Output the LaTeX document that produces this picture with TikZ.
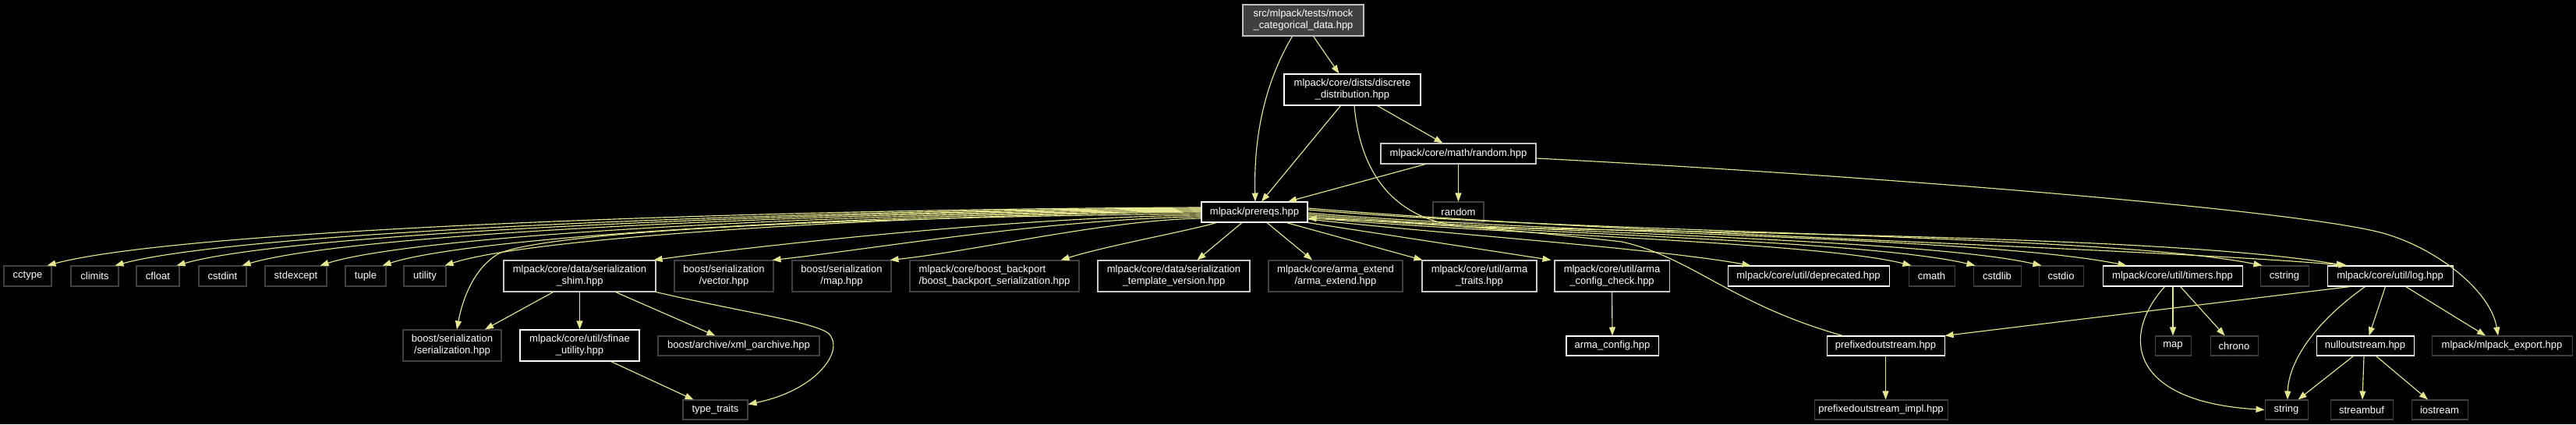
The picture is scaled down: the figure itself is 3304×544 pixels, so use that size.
\documentclass[tikz,border=0pt]{standalone}
\usepackage{fontspec}
\setmainfont{Liberation Sans}
\usetikzlibrary{arrows.meta}
\definecolor{edgec}{HTML}{E6E68F}
\definecolor{extc}{HTML}{404040}
\definecolor{gryc}{HTML}{C8C8C8}
\definecolor{rootc}{HTML}{BFBFBF}
\definecolor{rootfill}{HTML}{404040}
\newcommand\ndfont{\fontsize{13}{15}\selectfont}
\tikzset{
  nd/.style={draw=white, fill=black, text=white, line width=1.05pt, inner sep=0pt, align=center, font=\ndfont},
  extn/.style={nd, draw=extc},
  gryn/.style={nd, draw=gryc},
  rootn/.style={nd, draw=rootc, fill=rootfill},
  sz/.style 2 args={minimum width=#1pt, minimum height=#2pt},
  edge/.style={draw=edgec, line width=1.15pt, -{Triangle[length=11pt,width=8pt]}},
}
\begin{document}
\begin{tikzpicture}[x=1pt,y=-1pt]
\fill[black] (0,0) rectangle (3304,544);
\useasboundingbox (0,0) rectangle (3304,544);
% row 0-3
\node[rootn, sz={155}{40}] (mock) at (1671.5,26) {src/mlpack/tests/mock\\\_categorical\_data.hpp};
\node[nd, sz={175}{40}] (discrete) at (1734.5,115) {mlpack/core/dists/discrete\\\_distribution.hpp};
\node[gryn, sz={199}{26}] (randomhpp) at (1870.5,197) {mlpack/core/math/random.hpp};
\node[nd, sz={136}{26}] (prereqs) at (1609,272) {mlpack/prereqs.hpp};
\node[extn, sz={65}{26}] (random) at (1870.5,272) {random};
% row 4
\node[extn, sz={61}{26}] (cctype) at (35.5,354) {cctype};
\node[extn, sz={61}{26}] (climits) at (121.5,354) {climits};
\node[extn, sz={55}{26}] (cfloat) at (202.5,354) {cfloat};
\node[extn, sz={61}{26}] (cstdint) at (285.5,354) {cstdint};
\node[extn, sz={79}{26}] (stdexcept) at (379.5,354) {stdexcept};
\node[extn, sz={52}{26}] (tuple) at (469,354) {tuple};
\node[extn, sz={54}{26}] (utility) at (545,354) {utility};
\node[gryn, sz={195}{40}] (shim) at (743.5,354) {mlpack/core/data/serialization\\\_shim.hpp};
\node[extn, sz={127}{40}] (vector) at (928.5,354) {boost/serialization\\/vector.hpp};
\node[extn, sz={127}{40}] (bmap) at (1079.5,354) {boost/serialization\\/map.hpp};
\node[extn, sz={217}{40}, align=left] (backport) at (1275.5,354) {mlpack/core/boost\_backport\\/boost\_backport\_serialization.hpp};
\node[gryn, sz={195}{40}] (tversion) at (1505.5,354) {mlpack/core/data/serialization\\\_template\_version.hpp};
\node[extn, sz={172}{40}] (armaext) at (1713,354) {mlpack/core/arma\_extend\\/arma\_extend.hpp};
\node[gryn, sz={147}{40}] (armatraits) at (1897.5,354) {mlpack/core/util/arma\\\_traits.hpp};
\node[gryn, sz={147}{40}] (armacheck) at (2067.5,354) {mlpack/core/util/arma\\\_config\_check.hpp};
\node[nd, sz={207}{26}] (deprecated) at (2319.5,354) {mlpack/core/util/deprecated.hpp};
\node[extn, sz={59}{26}] (cmath) at (2477.5,354) {cmath};
\node[extn, sz={61}{26}] (cstdlib) at (2561.5,354) {cstdlib};
\node[extn, sz={57}{26}] (cstdio) at (2643.5,354) {cstdio};
\node[nd, sz={179}{26}] (timers) at (2786.5,354) {mlpack/core/util/timers.hpp};
\node[extn, sz={62}{26}] (cstring) at (2930,354) {cstring};
\node[nd, sz={161}{26}] (log) at (3065.5,354) {mlpack/core/util/log.hpp};
% row 5
\node[extn, sz={126}{40}] (bser) at (580,443) {boost/serialization\\/serialization.hpp};
\node[nd, sz={153}{40}] (sfinae) at (743.5,443) {mlpack/core/util/sfinae\\\_utility.hpp};
\node[extn, sz={207}{25}] (xml) at (947.5,443.5) {boost/archive/xml\_oarchive.hpp};
\node[nd, sz={118}{25}] (armaconfig) at (2068,443.5) {arma\_config.hpp};
\node[nd, sz={151}{25}] (prefixed) at (2418.5,443.5) {prefixedoutstream.hpp};
\node[extn, sz={46}{25}] (smap) at (2787,443.5) {map};
\node[extn, sz={61}{25}] (chrono) at (2865.5,443.5) {chrono};
\node[nd, sz={125}{25}] (nullout) at (3033.5,443.5) {nulloutstream.hpp};
\node[extn, sz={180}{25}] (export) at (3209,443.5) {mlpack/mlpack\_export.hpp};
% row 6
\node[extn, sz={83}{25}] (ttraits) at (917.5,525.5) {type\_traits};
\node[extn, sz={171}{25}] (pimpl) at (2412.5,525.5) {prefixedoutstream\_impl.hpp};
\node[extn, sz={55}{25}] (string) at (2932.5,525.5) {string};
\node[extn, sz={80}{25}] (streambuf) at (3029,525.5) {streambuf};
\node[extn, sz={72}{25}] (iostream) at (3129,525.5) {iostream};

% edges from mock / discrete / random.hpp
\draw[edge] ([xshift=-14pt]mock.south) .. controls (1620,110) and (1608,180) .. ([xshift=1pt]prereqs.north);
\draw[edge] ([xshift=13pt]mock.south) -- ([xshift=-17pt]discrete.north);
\draw[edge] ([xshift=-15pt]discrete.south) -- ([xshift=9pt]prereqs.north);
\draw[edge] ([xshift=32pt]discrete.south) -- ([xshift=-20pt]randomhpp.north);
\draw[edge] ([xshift=2.5pt]discrete.south) .. controls (1745,225) and (1790,283) .. (1880,291) .. controls (2300,300) and (2800,305) .. ([xshift=23pt]log.north west);
\draw[edge] ([xshift=-42pt]randomhpp.south) -- ([xshift=43pt]prereqs.north);
\draw[edge] (randomhpp.south) -- (random.north);
\draw[edge] ([yshift=-6pt]randomhpp.east) .. controls (2400,225) and (2960,270) .. (3060,300) .. controls (3130,321) and (3195,375) .. ([xshift=-5pt]export.north);

% prereqs, left bundle
\draw[edge] ([yshift=6pt]prereqs.west) .. controls (1000,268) and (240,293) .. ([xshift=-6pt]cctype.north east);
\draw[edge] ([yshift=5pt]prereqs.west) .. controls (1053,269) and (317,295) .. ([xshift=-5pt]climits.north east);
\draw[edge] ([yshift=4pt]prereqs.west) .. controls (1081,270) and (384,296) .. ([xshift=-4pt]cfloat.north east);
\draw[edge] ([yshift=3pt]prereqs.west) .. controls (1110,271) and (458,297) .. ([xshift=-6pt]cstdint.north east);
\draw[edge] ([yshift=2pt]prereqs.west) .. controls (1145,272) and (546,298) .. ([xshift=-9pt]stdexcept.north east);
\draw[edge] ([yshift=1pt]prereqs.west) .. controls (1173,273) and (616,300) .. ([xshift=-5pt]tuple.north east);
\draw[edge] (prereqs.west) .. controls (1201,274) and (687,302) .. ([xshift=-2pt]utility.north east);
\draw[edge] ([yshift=-2pt]prereqs.west) .. controls (1000,280) and (700,300) .. (640,325) .. controls (605,345) and (592,390) .. ([xshift=6pt]bser.north);
\draw[edge] ([yshift=-4pt]prereqs.west) .. controls (1300,278) and (950,318) .. ([xshift=-3pt]shim.north east);
\draw[edge] ([yshift=-6pt]prereqs.west) .. controls (1350,280) and (1100,322) .. ([xshift=-2pt]vector.north east);
\draw[edge] ([yshift=-8pt]prereqs.west) .. controls (1420,282) and (1250,322) .. ([xshift=-2pt]bmap.north east);
\draw[edge] ([xshift=20pt]prereqs.south west) .. controls (1520,297) and (1420,315) .. ([xshift=-24pt]backport.north east);
\draw[edge] ([xshift=-16pt]prereqs.south) -- ([xshift=30pt]tversion.north);

% prereqs, right bundle
\draw[edge] ([xshift=16pt]prereqs.south) -- ([xshift=-30pt]armaext.north);
\draw[edge] ([xshift=41pt]prereqs.south) -- ([xshift=1pt]armatraits.north west);
\draw[edge] (prereqs.south east) -- ([xshift=-4pt]armacheck.north west);
\draw[edge] ([yshift=-9pt]prereqs.east) .. controls (1850,300) and (2120,318) .. ([xshift=30pt]deprecated.north west);
\draw[edge] ([yshift=-7pt]prereqs.east) .. controls (1910,300) and (2330,310) .. ([xshift=4pt]cmath.north west);
\draw[edge] ([yshift=-5pt]prereqs.east) .. controls (1940,300) and (2390,307) .. ([xshift=3pt]cstdlib.north west);
\draw[edge] ([yshift=-3pt]prereqs.east) .. controls (1960,300) and (2460,305) .. ([xshift=4pt]cstdio.north west);
\draw[edge] ([yshift=-1pt]prereqs.east) .. controls (1990,300) and (2540,303) .. ([xshift=31pt]timers.north west);
\draw[edge] ([yshift=3pt]prereqs.east) .. controls (2045,300) and (2700,300) .. ([xshift=3pt]cstring.north west);
\draw[edge] ([yshift=5pt]prereqs.east) .. controls (2080,300) and (2750,318) .. ([xshift=26pt]log.north west);

% back edge into prereqs
\draw[edge] ([xshift=-55pt]prefixed.north) .. controls (2220,390) and (2170,330) .. (2080,310) .. controls (1900,290) and (1780,283) .. ([yshift=-8pt]prereqs.east);

% shim / sfinae
\draw[edge] ([xshift=-34pt]shim.south) -- ([xshift=42pt]bser.north);
\draw[edge] (shim.south) -- (sfinae.north);
\draw[edge] ([xshift=46pt]shim.south) -- ([xshift=-30pt]xml.north);
\draw[edge] (shim.south east) .. controls (950,400) and (1040,412) .. (1062,427) .. controls (1085,447) and (1050,500) .. ([yshift=-6pt]ttraits.north east);
\draw[edge] ([xshift=40pt]sfinae.south) -- ([xshift=-28pt]ttraits.north);

% arma / prefixed
\draw[edge] (armacheck.south) -- (armaconfig.north);
\draw[edge] (prefixed.south) -- (prefixed.south |- pimpl.north);

% log / timers / nullout
\draw[edge] ([xshift=-51pt]log.south) -- (prefixed.north east);
\draw[edge] ([xshift=-32pt]log.south) .. controls (2960,420) and (2935,470) .. ([xshift=1.5pt]string.north);
\draw[edge] ([xshift=-6pt]log.south) -- ([xshift=5pt]nullout.north);
\draw[edge] ([xshift=20pt]log.south) -- ([xshift=-21pt]export.north);
\draw[edge] ([xshift=0.5pt]timers.south) -- (smap.north);
\draw[edge] ([xshift=10pt]timers.south) -- ([xshift=-12pt]chrono.north);
\draw[edge] ([xshift=-10pt]timers.south) .. controls (2720,430) and (2730,515) .. (string.west);
\draw[edge] ([xshift=-15pt]nullout.south) -- ([xshift=15pt]string.north);
\draw[edge] ([xshift=-1.5pt]nullout.south) -- ([xshift=1pt]streambuf.north);
\draw[edge] ([xshift=14pt]nullout.south) -- ([xshift=-15pt]iostream.north);
\end{tikzpicture}
\end{document}
